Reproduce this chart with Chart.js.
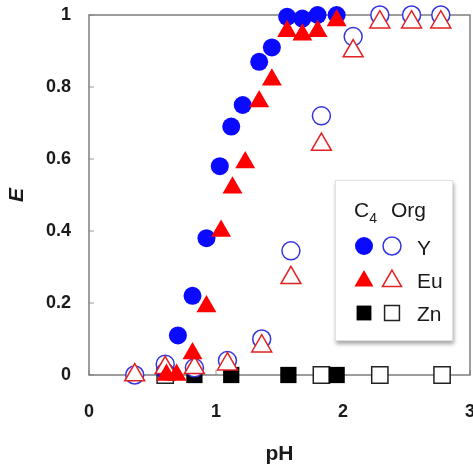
<!DOCTYPE html>
<html>
<head>
<meta charset="utf-8">
<script src="https://cdn.jsdelivr.net/npm/chart.js@4/dist/chart.umd.min.js"></script>
<style>
  html, body { margin: 0; padding: 0; background: #fff; }
  #wrap { width: 473px; height: 471px; position: relative; }
</style>
</head>
<body>
<div id="wrap"><canvas id="c"></canvas></div>
<script>
// Extraction ratio E versus pH with C4 organic phase (filled) and comparison runs (open)
const phYFilled  = [0.60, 0.70, 0.815, 0.925, 1.03, 1.12, 1.21, 1.34, 1.44, 1.56, 1.68, 1.80, 1.95];
const eYFilled   = [0.01, 0.11, 0.22, 0.38, 0.58, 0.69, 0.75, 0.87, 0.91, 0.995, 0.99, 1.0, 1.0];

const phEuFilled = [0.61, 0.69, 0.815, 0.925, 1.04, 1.13, 1.23, 1.34, 1.44, 1.56, 1.68, 1.80, 1.95];
const eEuFilled  = [0.0, 0.0, 0.06, 0.19, 0.40, 0.52, 0.59, 0.76, 0.82, 0.955, 0.945, 0.955, 0.985];

const phYOpen    = [0.36, 0.60, 0.83, 1.09, 1.36, 1.59, 1.83, 2.08, 2.29, 2.54, 2.77];
const eYOpen     = [0.0, 0.03, 0.02, 0.04, 0.10, 0.345, 0.72, 0.94, 1.0, 1.0, 1.0];

const phEuOpen   = [0.36, 0.60, 0.83, 1.09, 1.36, 1.59, 1.83, 2.08, 2.29, 2.54, 2.77];
const eEuOpen    = [0.0, 0.02, 0.02, 0.03, 0.08, 0.27, 0.64, 0.90, 0.98, 0.98, 0.98];

const phZnFilled = [0.83, 1.12, 1.57, 1.95];
const eZnFilled  = [0, 0, 0, 0];

const phZnOpen   = [0.60, 1.83, 2.29, 2.78];
const eZnOpen    = [0, 0, 0, 0];

const xTickValues = [0, 1, 2, 3];
const xTickLabels = ['0', '1', '2', '3'];
const yTickValues = [0, 0.2, 0.4, 0.6, 0.8, 1];
const yTickLabels = ['0', '0.2', '0.4', '0.6', '0.8', '1'];

const legendTitle = ['C', '4', 'Org'];
const legendLabels = ['Y', 'Eu', 'Zn'];

const FONT = 'Arial, "Liberation Sans", Helvetica, sans-serif';
const BLUE = '#0a0aff';
const BLUE_LINE = '#3434dc';
const RED = '#ff0000';
const RED_LINE = '#e22222';

function series(label, xs, ys, style, r, bg, border, bw) {
  return {
    label,
    data: xs.map((x, i) => ({ x, y: ys[i] })),
    pointStyle: style,
    pointRadius: r,
    pointHoverRadius: r,
    backgroundColor: bg,
    borderColor: border,
    borderWidth: bw,
    pointBorderWidth: bw,
    showLine: false,
    clip: false
  };
}

// Draws one marker the same way the scatter points look
function marker(ctx, kind, x, y, r, fill, stroke, lw) {
  ctx.save();
  ctx.beginPath();
  if (kind === 'circle') {
    ctx.arc(x, y, r, 0, Math.PI * 2);
  } else if (kind === 'triangle') {
    const a = 2 * Math.PI / 3;
    ctx.moveTo(x, y - r);
    ctx.lineTo(x + Math.sin(a) * r, y - Math.cos(a) * r);
    ctx.lineTo(x + Math.sin(2 * a) * r, y - Math.cos(2 * a) * r);
  } else {
    const s = r * Math.SQRT1_2;
    ctx.rect(x - s, y - s, 2 * s, 2 * s);
  }
  ctx.closePath();
  if (fill) { ctx.fillStyle = fill; ctx.fill(); }
  if (stroke) { ctx.strokeStyle = stroke; ctx.lineWidth = lw; ctx.stroke(); }
  ctx.restore();
}

// Plot frame with inward tick marks
const framePlugin = {
  id: 'frame',
  beforeDatasetsDraw(chart) {
    const { ctx, chartArea: a, scales } = chart;
    ctx.save();
    ctx.strokeStyle = '#9a9a9a';
    ctx.lineWidth = 1;
    ctx.beginPath();
    yTickValues.forEach(v => {
      const py = scales.y.getPixelForValue(v);
      ctx.moveTo(a.left, py); ctx.lineTo(a.left + 5, py);
    });
    xTickValues.forEach(v => {
      const px = scales.x.getPixelForValue(v);
      ctx.moveTo(px, a.bottom); ctx.lineTo(px, a.bottom - 5);
    });
    ctx.stroke();
    ctx.strokeStyle = '#7d7d7d';
    ctx.lineWidth = 1.5;
    ctx.strokeRect(a.left, a.top, a.right - a.left, a.bottom - a.top);
    ctx.restore();
  }
};

// Legend box: filled/open marker pair per element
const legendPlugin = {
  id: 'pairLegend',
  afterDraw(chart) {
    const ctx = chart.ctx;
    const bx = 335, by = 180, bw = 118, bh = 161;
    ctx.save();
    ctx.shadowColor = 'rgba(0,0,0,0.35)';
    ctx.shadowBlur = 4;
    ctx.shadowOffsetX = 1;
    ctx.shadowOffsetY = 3;
    ctx.fillStyle = '#ffffff';
    ctx.fillRect(bx, by, bw, bh);
    ctx.restore();
    ctx.save();
    ctx.strokeStyle = '#e2e2e2';
    ctx.lineWidth = 1;
    ctx.strokeRect(bx + 0.5, by + 0.5, bw - 1, bh - 1);

    ctx.fillStyle = '#1a1a1a';
    ctx.textBaseline = 'alphabetic';
    ctx.textAlign = 'left';
    ctx.font = '21px ' + FONT;
    ctx.fillText(legendTitle[0], 354, 217);
    const cw = ctx.measureText(legendTitle[0]).width;
    ctx.font = '14px ' + FONT;
    ctx.fillText(legendTitle[1], 354 + cw, 223);
    ctx.font = '21px ' + FONT;
    ctx.fillText(legendTitle[2], 391, 217);

    const rows = [
      { y: 246, kind: 'circle', r: 9, fill: BLUE, open: BLUE_LINE, ty: 255 },
      { y: 281, kind: 'triangle', r: 11, fill: RED, open: RED_LINE, ty: 288 },
      { y: 313, kind: 'rect', r: 10.5, fill: '#000000', open: '#222222', ty: 321 }
    ];
    rows.forEach((row, i) => {
      marker(ctx, row.kind, 364, row.y, row.r, row.fill, null, 0);
      marker(ctx, row.kind, 392, row.y, row.r, '#ffffff', row.open, 1.5);
      ctx.fillStyle = '#1a1a1a';
      ctx.font = '21px ' + FONT;
      ctx.fillText(legendLabels[i], 417, row.ty);
    });
    ctx.restore();
  }
};

const data = {
  datasets: [
    series('Eu', phEuFilled, eEuFilled, 'triangle', 11.5, RED, RED, 0),
    series('Eu open', phEuOpen, eEuOpen, 'triangle', 11.5, '#ffffff', RED_LINE, 1.5),
    series('Y', phYFilled, eYFilled, 'circle', 9, BLUE, BLUE, 0),
    series('Y open', phYOpen, eYOpen, 'circle', 9, '#ffffff', BLUE_LINE, 1.5),
    series('Zn', phZnFilled, eZnFilled, 'rect', 11.5, '#000000', '#000000', 0),
    series('Zn open', phZnOpen, eZnOpen, 'rect', 11.5, '#ffffff', '#222222', 1.5)
  ]
};

function zeroPadding(scale) {
  scale.paddingLeft = 0; scale.paddingRight = 0;
  scale.paddingTop = 0; scale.paddingBottom = 0;
}

new Chart(document.getElementById('c'), {
  type: 'scatter',
  data,
  plugins: [framePlugin, legendPlugin],
  options: {
    responsive: true,
    maintainAspectRatio: false,
    animation: false,
    layout: { autoPadding: false, padding: { top: 15, right: 3, left: 0, bottom: 0 } },
    plugins: { legend: { display: false }, tooltip: { enabled: false } },
    scales: {
      x: {
        type: 'linear',
        min: 0, max: 3,
        afterBuildTicks(scale) { scale.ticks = xTickValues.map(v => ({ value: v })); },
        afterFit(scale) { scale.height = 96; zeroPadding(scale); },
        grid: { display: false, drawTicks: false },
        border: { display: false },
        ticks: {
          padding: 26,
          color: '#1a1a1a',
          font: { family: FONT, size: 18, weight: 'bold' },
          maxRotation: 0,
          callback: (v) => { const i = xTickValues.indexOf(v); return i >= 0 ? xTickLabels[i] : ''; }
        },
        title: {
          display: true, text: 'pH', color: '#1a1a1a',
          font: { family: FONT, size: 21, weight: 'bold' },
          padding: { top: 0, bottom: 4 }
        }
      },
      y: {
        type: 'linear',
        min: 0, max: 1,
        afterBuildTicks(scale) { scale.ticks = yTickValues.map(v => ({ value: v })); },
        afterFit(scale) { scale.width = 89; zeroPadding(scale); },
        grid: { display: false, drawTicks: false },
        border: { display: false },
        ticks: {
          padding: 18,
          color: '#1a1a1a',
          font: { family: FONT, size: 18, weight: 'bold' },
          callback: (v) => { const i = yTickValues.indexOf(v); return i >= 0 ? yTickLabels[i] : ''; }
        },
        title: {
          display: true, text: 'E', color: '#1a1a1a',
          font: { family: FONT, size: 21, weight: 'bold', style: 'italic' },
          padding: { top: 5, bottom: 0 }
        }
      }
    }
  }
});
</script>
</body>
</html>
